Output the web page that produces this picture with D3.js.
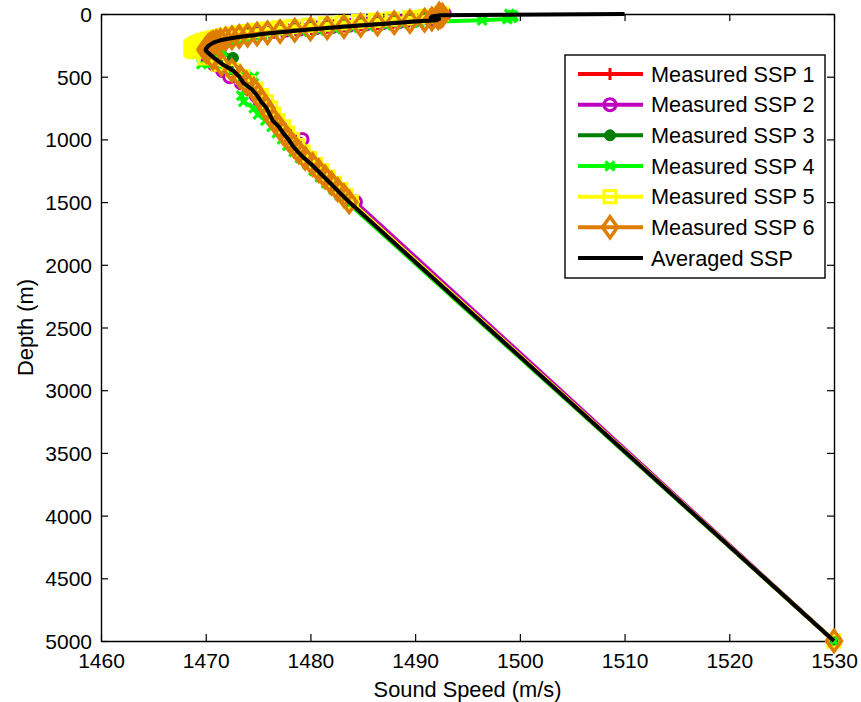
<!DOCTYPE html>
<html>
<head>
<meta charset="utf-8">
<script src="https://cdn.jsdelivr.net/npm/d3@7"></script>
<style>
  html, body { margin: 0; padding: 0; background: #fff; }
  svg { display: block; font-family: "Liberation Sans", Arial, Helvetica, sans-serif; }
</style>
</head>
<body>
<svg id="chart" width="861" height="702"></svg>
<script>
// Depth samples (m) shared by every profile
const depths = [
  0, 10, 20, 30, 40, 50, 60, 70, 80, 90,
  100, 110, 120, 130, 140, 150, 160, 170, 180, 190,
  200, 210, 220, 230, 240, 250, 260, 270, 280, 290,
  300, 350, 400, 450, 500, 550, 600, 650, 700, 750,
  800, 850, 900, 950, 1000, 1050, 1100, 1150, 1200, 1250,
  1300, 1350, 1400, 1450, 1500, 5000
];

// Sound speed (m/s) of each measured profile at the depths above
const ssp1 = [
  1492.5, 1492.4, 1492.3, 1492.0, 1491.5, 1490.6, 1489.4, 1487.9, 1486.4, 1484.8,
  1483.2, 1481.6, 1480.1, 1478.6, 1477.3, 1476.1, 1475.1, 1474.2, 1473.4, 1472.7,
  1472.1, 1471.6, 1471.2, 1470.9, 1470.7, 1470.5, 1470.4, 1470.3, 1470.2, 1470.2,
  1470.2, 1470.7, 1471.5, 1472.5, 1473.3, 1473.9, 1474.5, 1474.9, 1475.3, 1475.7,
  1476.0, 1476.4, 1476.9, 1477.3, 1477.8, 1478.3, 1478.8, 1479.4, 1480.1, 1480.7,
  1481.3, 1481.9, 1482.5, 1483.1, 1483.7, 1530.0
];
const ssp2 = [
  1492.8, 1492.7, 1492.6, 1492.3, 1491.4, 1490.0, 1488.5, 1486.9, 1485.3, 1483.7,
  1482.1, 1480.5, 1479.0, 1477.6, 1476.4, 1475.3, 1474.4, 1473.6, 1472.9, 1472.3,
  1471.8, 1471.3, 1470.9, 1470.6, 1470.4, 1470.2, 1470.0, 1469.9, 1469.8, 1469.8,
  1469.8, 1470.2, 1470.8, 1471.6, 1472.3, 1473.4, 1474.2, 1474.8, 1475.2, 1475.6,
  1476.0, 1476.5, 1477.1, 1477.6, 1479.2, 1478.4, 1478.9, 1479.5, 1480.2, 1480.8,
  1481.4, 1482.0, 1482.6, 1483.3, 1484.3, 1530.0
];
const ssp3 = [
  1491.6, 1491.8, 1491.5, 1490.8, 1489.6, 1488.1, 1486.5, 1484.9, 1483.3, 1481.7,
  1480.2, 1478.8, 1477.5, 1476.4, 1475.4, 1474.6, 1473.8, 1473.1, 1472.5, 1472.0,
  1471.6, 1471.2, 1470.9, 1470.7, 1470.5, 1470.4, 1470.4, 1470.5, 1470.6, 1470.8,
  1471.4, 1472.6, 1471.8, 1472.2, 1473.0, 1473.7, 1474.3, 1474.8, 1475.2, 1475.6,
  1476.0, 1476.4, 1476.9, 1477.3, 1477.8, 1478.3, 1478.8, 1479.4, 1480.0, 1480.6,
  1481.2, 1481.8, 1482.4, 1483.0, 1483.6, 1530.0
];
const ssp4 = [
  1499.0, 1499.3, 1499.4, 1499.2, 1498.8, 1496.4, 1492.2, 1490.4, 1488.8, 1487.2,
  1485.6, 1484.0, 1482.4, 1480.8, 1479.2, 1477.8, 1476.5, 1475.4, 1474.4, 1473.6,
  1472.9, 1472.3, 1471.8, 1471.4, 1471.1, 1470.8, 1470.6, 1470.9, 1471.2, 1471.5,
  1471.6, 1470.9, 1469.6, 1471.8, 1474.6, 1473.6, 1473.8, 1473.4, 1473.6, 1474.6,
  1475.0, 1475.7, 1476.3, 1476.8, 1477.3, 1477.8, 1478.4, 1479.0, 1479.7, 1480.3,
  1480.9, 1481.5, 1482.2, 1482.8, 1483.5, 1530.0
];
const ssp5 = [
  1492.5, 1492.3, 1491.0, 1489.5, 1487.8, 1486.2, 1484.6, 1483.0, 1481.4, 1479.8,
  1478.3, 1477.0, 1475.9, 1474.9, 1474.0, 1473.2, 1472.5, 1471.8, 1471.2, 1470.7,
  1470.2, 1469.8, 1469.5, 1469.2, 1469.0, 1468.8, 1468.7, 1468.6, 1468.6, 1468.7,
  1468.9, 1469.9, 1471.2, 1472.6, 1473.5, 1474.1, 1474.8, 1475.3, 1475.8, 1476.2,
  1476.5, 1476.9, 1477.4, 1477.8, 1478.3, 1478.8, 1479.3, 1479.9, 1480.5, 1481.1,
  1481.7, 1482.3, 1482.9, 1483.4, 1483.9, 1530.0
];
const ssp6 = [
  1492.3, 1492.6, 1492.4, 1492.2, 1491.6, 1490.9, 1489.5, 1488.0, 1486.4, 1484.8,
  1483.2, 1481.6, 1480.0, 1478.5, 1477.1, 1475.9, 1474.9, 1474.0, 1473.2, 1472.5,
  1471.9, 1471.4, 1471.0, 1470.7, 1470.5, 1470.3, 1470.2, 1470.1, 1470.0, 1470.0,
  1470.1, 1470.7, 1471.5, 1472.5, 1473.3, 1473.9, 1474.6, 1475.0, 1475.4, 1475.8,
  1476.1, 1476.5, 1477.0, 1477.4, 1477.9, 1478.4, 1478.9, 1479.5, 1480.2, 1480.8,
  1481.4, 1482.0, 1482.6, 1483.2, 1483.7, 1530.0
];
// Averaged profile
const sspAvg = [
  1510.0, 1492.4, 1491.6, 1491.5, 1492.3, 1492.0, 1490.0, 1488.4, 1486.8, 1485.1,
  1483.4, 1481.9, 1480.5, 1479.1, 1477.9, 1476.6, 1475.4, 1474.6, 1473.5, 1472.7,
  1472.0, 1471.4, 1471.0, 1470.7, 1470.5, 1470.3, 1470.2, 1470.1, 1470.0, 1470.0,
  1470.1, 1470.8, 1471.6, 1472.6, 1473.2, 1473.6, 1474.4, 1474.9, 1475.3, 1475.8,
  1476.1, 1476.4, 1477.0, 1477.4, 1477.9, 1478.3, 1478.8, 1479.4, 1480.1, 1480.7,
  1481.3, 1481.9, 1482.5, 1483.1, 1483.7, 1530.0
];

const seriesNames = [
  "Measured SSP 1", "Measured SSP 2", "Measured SSP 3",
  "Measured SSP 4", "Measured SSP 5", "Measured SSP 6", "Averaged SSP"
];
const seriesValues = [ssp1, ssp2, ssp3, ssp4, ssp5, ssp6, sspAvg];

const xTicks = [1460, 1470, 1480, 1490, 1500, 1510, 1520, 1530];
const yTicks = [0, 500, 1000, 1500, 2000, 2500, 3000, 3500, 4000, 4500, 5000];

// Drawing styles for each series
const styles = [
  { color: "#ff0000", marker: "plus" },
  { color: "#bf00bf", marker: "circle" },
  { color: "#007f00", marker: "dot" },
  { color: "#00ff00", marker: "cross" },
  { color: "#ffff00", marker: "square" },
  { color: "#de7d00", marker: "diamond" },
  { color: "#000000", marker: null }
];

const plotL = 101, plotR = 834, plotT = 14, plotB = 641;
const svg = d3.select("#chart");

const x = d3.scaleLinear().domain([1460, 1530]).range([plotL, plotR]);
const y = d3.scaleLinear().domain([0, 5000]).range([plotT, plotB]);

// Axes: box with inward ticks on all four sides
const fontSize = 21;
const axB = svg.append("g").attr("transform", `translate(0,${plotB})`)
  .call(d3.axisBottom(x).tickValues(xTicks).tickFormat(d3.format("d"))
    .tickSizeInner(-7).tickSizeOuter(0).tickPadding(12));
const axL = svg.append("g").attr("transform", `translate(${plotL},0)`)
  .call(d3.axisLeft(y).tickValues(yTicks).tickFormat(d3.format("d"))
    .tickSizeInner(-7).tickSizeOuter(0).tickPadding(9));
const axT = svg.append("g").attr("transform", `translate(0,${plotT})`)
  .call(d3.axisTop(x).tickValues(xTicks).tickFormat("")
    .tickSizeInner(-7).tickSizeOuter(0));
const axR = svg.append("g").attr("transform", `translate(${plotR},0)`)
  .call(d3.axisRight(y).tickValues(yTicks).tickFormat("")
    .tickSizeInner(-7).tickSizeOuter(0));
[axB, axL, axT, axR].forEach(g => {
  g.selectAll(".domain").attr("stroke", "#000").attr("stroke-width", 1.4);
  g.selectAll(".tick line").attr("stroke", "#000").attr("stroke-width", 1.2);
  g.selectAll("text").attr("font-size", fontSize).attr("fill", "#000")
    .attr("font-family", "Liberation Sans, Arial, sans-serif");
});
axL.selectAll(".tick text").attr("dy", "0.36em");

// Axis titles
svg.append("text")
  .attr("x", (plotL + plotR) / 2).attr("y", 697)
  .attr("text-anchor", "middle").attr("font-size", 21.8)
  .text("Sound Speed (m/s)");
svg.append("text")
  .attr("transform", `translate(33,${(plotT + plotB) / 2}) rotate(-90)`)
  .attr("text-anchor", "middle").attr("font-size", 21.8)
  .text("Depth (m)");

// Marker glyphs
function drawMarker(g, type, color, cx, cy) {
  if (type === "plus") {
    g.append("path").attr("d", `M${cx - 6},${cy}H${cx + 6}M${cx},${cy - 6}V${cy + 6}`)
      .attr("stroke", color).attr("stroke-width", 3).attr("fill", "none");
  } else if (type === "circle") {
    g.append("circle").attr("cx", cx).attr("cy", cy).attr("r", 6)
      .attr("stroke", color).attr("stroke-width", 3).attr("fill", "none");
  } else if (type === "dot") {
    g.append("circle").attr("cx", cx).attr("cy", cy).attr("r", 5.5)
      .attr("fill", color).attr("stroke", color).attr("stroke-width", 1);
  } else if (type === "cross") {
    g.append("path").attr("d", `M${cx - 4.5},${cy - 4.5}L${cx + 4.5},${cy + 4.5}M${cx - 4.5},${cy + 4.5}L${cx + 4.5},${cy - 4.5}`)
      .attr("stroke", color).attr("stroke-width", 3.2).attr("fill", "none");
  } else if (type === "square") {
    g.append("rect").attr("x", cx - 6).attr("y", cy - 6).attr("width", 12).attr("height", 12)
      .attr("stroke", color).attr("stroke-width", 3.2).attr("fill", "none");
  } else if (type === "diamond") {
    g.append("path").attr("d", `M${cx},${cy - 10.5}L${cx + 7.5},${cy}L${cx},${cy + 10.5}L${cx - 7.5},${cy}Z`)
      .attr("stroke", color).attr("stroke-width", 3.5).attr("fill", "none")
      .attr("stroke-linejoin", "miter");
  }
}

const line = d3.line().x(d => x(d.v)).y(d => y(d.d));

seriesValues.forEach((vals, i) => {
  const st = styles[i];
  const pts = vals.map((v, k) => ({ v: v, d: depths[k] }));
  const g = svg.append("g").attr("class", "series");
  g.append("path").datum(pts).attr("d", line)
    .attr("fill", "none").attr("stroke", st.color).attr("stroke-width", 4)
    .attr("stroke-linejoin", "round");
  if (st.marker) {
    pts.forEach(p => drawMarker(g, st.marker, st.color, x(p.v), y(p.d)));
  }
});

// Legend
const lg = svg.append("g");
lg.append("rect").attr("x", 565).attr("y", 55).attr("width", 260).attr("height", 223)
  .attr("fill", "#fff").attr("stroke", "#000").attr("stroke-width", 1.4);
const rowY = d3.scaleLinear().domain([0, 6]).range([74, 258]);
seriesNames.forEach((name, i) => {
  const st = styles[i];
  const yy = rowY(i);
  lg.append("line").attr("x1", 578).attr("x2", 643).attr("y1", yy).attr("y2", yy)
    .attr("stroke", st.color).attr("stroke-width", 4);
  if (st.marker) drawMarker(lg, st.marker, st.color, 610, yy);
  lg.append("text").attr("x", 651).attr("y", yy).attr("dy", "0.36em")
    .attr("font-size", 21.7).attr("fill", "#000").text(name);
});
</script>
</body>
</html>
